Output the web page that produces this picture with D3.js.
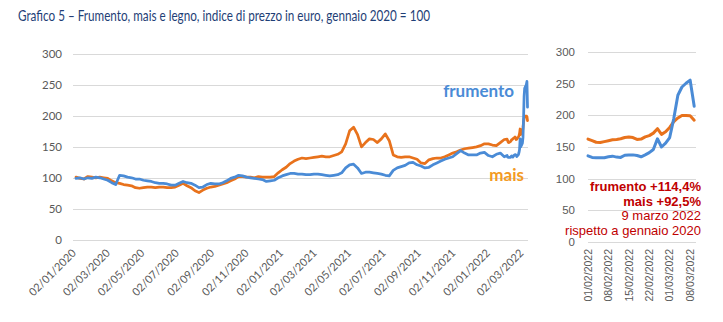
<!DOCTYPE html>
<html>
<head>
<meta charset="utf-8">
<script src="https://cdn.jsdelivr.net/npm/d3@7"></script>
<style>
  html, body { margin: 0; padding: 0; background: #ffffff; }
  svg { display: block; }
</style>
</head>
<body>
<script>
// ---- Data: price index in euro, January 2020 = 100 ----

// Weekly observations from 2 Jan 2020 to 27 Jan 2022
const weeklyStart = "2020-01-02";
const wheatWeekly = [
  99,100,98,100,99,101,100,98,96,92,
  89,104,103,101,100,98,98,96,95,94,
  92,91,91,90,88,88,91,94,92,91,
  88,84,85,89,91,90,90,92,95,99,
  101,104,103,101,100,99,98,97,94,95,
  96,100,103,105,107,107,106,106,105,105,
  106,106,105,104,103,104,105,108,116,121,
  122,116,107,109,109,108,107,106,104,103,
  112,116,118,120,124,125,121,119,116,117,
  121,124,127,130,132,134,139,144,140,137,
  137,137,140,141,136,134,138,140,134
];
const maizeWeekly = [
  101,99,98,102,101,100,101,100,99,95,
  92,91,89,88,87,84,83,84,85,85,
  84,85,85,84,84,85,88,91,87,84,
  79,76,80,83,85,86,88,90,92,95,
  98,102,102,101,101,100,102,101,101,101,
  102,108,113,117,123,127,130,132,131,132,
  133,134,135,134,134,136,138,142,155,176,
  182,170,150,157,163,162,157,163,171,160,
  137,134,133,134,134,132,130,124,123,129,
  131,132,132,134,137,140,142,145,147,148,
  149,150,152,155,155,153,152,157,162
];

// Daily trading sessions, 1 Feb 2022 – 9 Mar 2022
const dailyDates = [
  "01/02/2022","02/02/2022","03/02/2022","04/02/2022","07/02/2022",
  "08/02/2022","09/02/2022","10/02/2022","11/02/2022","14/02/2022",
  "15/02/2022","16/02/2022","17/02/2022","18/02/2022","21/02/2022",
  "22/02/2022","23/02/2022","24/02/2022","25/02/2022","28/02/2022",
  "01/03/2022","02/03/2022","03/03/2022","04/03/2022","07/03/2022",
  "08/03/2022","09/03/2022"
];
const wheatDaily = [
  136,133.5,133,133,133,134.5,135.5,134,133.5,137,
  137.5,137.5,136.5,134.5,137.5,141,146,163,150,156,
  165,195,232,245,251,256,214.4
];
const maizeDaily = [
  162.5,160,157.5,157,158.5,160,161.5,162,163,165,
  166,165,162,162.5,166,168,172,179,170,174,
  181,190,196,200,200,199.5,192.5
];

// Axis tick labels
const yTicks = [0, 50, 100, 150, 200, 250, 300];
const mainTickLabels = [
  "02/01/2020","02/03/2020","02/05/2020","02/07/2020","02/09/2020","02/11/2020",
  "02/01/2021","02/03/2021","02/05/2021","02/07/2021","02/09/2021","02/11/2021",
  "02/01/2022","02/03/2022"
];
const zoomTickLabels = ["01/02/2022","08/02/2022","15/02/2022","22/02/2022","01/03/2022","08/03/2022"];

// Text
const titleText = "Grafico 5 \u2013 Frumento, mais e legno, indice di prezzo in euro, gennaio 2020 = 100";
const seriesNames = ["frumento", "mais"];
const noteLines = ["frumento +114,4%", "mais +92,5%", "9 marzo 2022", "rispetto a gennaio 2020"];

// ---- Build series ----
const parseDMY = d3.timeParse("%d/%m/%Y");
const start = d3.isoParse(weeklyStart + "T00:00:00");
const weeklyDates = wheatWeekly.map((_, i) => d3.timeDay.offset(start, 7 * i));
const dailyParsed = dailyDates.map(parseDMY);

const wheatMain = weeklyDates.map((d, i) => ({ date: d, v: wheatWeekly[i] }))
  .concat(dailyParsed.map((d, i) => ({ date: d, v: wheatDaily[i] })));
const maizeMain = weeklyDates.map((d, i) => ({ date: d, v: maizeWeekly[i] }))
  .concat(dailyParsed.map((d, i) => ({ date: d, v: maizeDaily[i] })));

const COLORS = { wheat: "#4a8bd6", maize: "#e8721c", maizeLabel: "#f39a24", grid: "#d9d9d9", tick: "#595959", note: "#c00000", title: "#1f3f77" };

const svg = d3.select("body").append("svg")
  .attr("width", 723).attr("height", 322)
  .style("background", "#ffffff");

// Title
svg.append("text")
  .attr("x", 18).attr("y", 20.5)
  .attr("textLength", 412).attr("lengthAdjust", "spacingAndGlyphs")
  .style("font-family", "'Liberation Sans Narrow', Lato, sans-serif")
  .style("font-size", "15px")
  .style("fill", COLORS.title)
  .text(titleText);

// ---- Main panel ----
const yMain = d3.scaleLinear().domain([0, 300]).range([239.5, 54.3]);
const xMain = d3.scaleTime()
  .domain([start, dailyParsed[dailyParsed.length - 1]])
  .range([76, 527.5]);

const gMain = svg.append("g");
gMain.selectAll("line.grid").data(yTicks).join("line")
  .attr("class", "grid")
  .attr("x1", 73).attr("x2", 528)
  .attr("y1", d => Math.round(yMain(d)) + 0.5).attr("y2", d => Math.round(yMain(d)) + 0.5)
  .attr("stroke", COLORS.grid).attr("stroke-width", 1);

gMain.selectAll("text.ytick").data(yTicks).join("text")
  .attr("class", "ytick")
  .attr("x", 62).attr("y", d => yMain(d)).attr("dy", "0.35em")
  .attr("text-anchor", "end")
  .style("font-family", "Lato, sans-serif").style("font-size", "11.5px")
  .style("fill", COLORS.tick)
  .text(d => d);

gMain.selectAll("text.xtick").data(mainTickLabels).join("text")
  .attr("class", "xtick")
  .attr("transform", d => `translate(${xMain(parseDMY(d)) - 2},251) rotate(-45)`)
  .attr("dy", "0.35em")
  .attr("text-anchor", "end")
  .style("font-family", "Lato, sans-serif").style("font-size", "11px")
  .style("fill", COLORS.tick)
  .text(d => d);

const lineMain = d3.line().x(d => xMain(d.date)).y(d => yMain(d.v));
gMain.append("path").datum(maizeMain)
  .attr("d", lineMain).attr("fill", "none")
  .attr("stroke", COLORS.maize).attr("stroke-width", 2.75)
  .attr("stroke-linejoin", "round").attr("stroke-linecap", "round");
gMain.append("path").datum(wheatMain)
  .attr("d", lineMain).attr("fill", "none")
  .attr("stroke", COLORS.wheat).attr("stroke-width", 2.75)
  .attr("stroke-linejoin", "round").attr("stroke-linecap", "round");

gMain.append("text")
  .attr("x", 514).attr("y", 96.5).attr("text-anchor", "end")
  .style("font-family", "Lato, sans-serif").style("font-weight", "bold").style("font-size", "17px")
  .style("fill", COLORS.wheat)
  .text(seriesNames[0]);
gMain.append("text")
  .attr("x", 524).attr("y", 180.5).attr("text-anchor", "end")
  .style("font-family", "Lato, sans-serif").style("font-weight", "bold").style("font-size", "17px")
  .style("fill", COLORS.maizeLabel)
  .text(seriesNames[1]);

// ---- Zoom panel: February – March 2022 ----
const yZoom = d3.scaleLinear().domain([0, 300]).range([241.7, 52.3]);
const xZoom = d3.scalePoint().domain(dailyDates).range([588, 694.2]);

const gZoom = svg.append("g");
gZoom.selectAll("line.grid").data(yTicks).join("line")
  .attr("class", "grid")
  .attr("x1", 588).attr("x2", 696)
  .attr("y1", d => Math.round(yZoom(d)) + 0.5).attr("y2", d => Math.round(yZoom(d)) + 0.5)
  .attr("stroke", COLORS.grid).attr("stroke-width", 1);

gZoom.selectAll("text.ytick").data(yTicks).join("text")
  .attr("class", "ytick")
  .attr("x", 575).attr("y", d => yZoom(d)).attr("dy", "0.35em")
  .attr("text-anchor", "end")
  .style("font-family", "'Liberation Sans', Arial, sans-serif").style("font-size", "11.5px")
  .style("fill", COLORS.tick)
  .text(d => d);

gZoom.selectAll("text.xtick").data(zoomTickLabels).join("text")
  .attr("class", "xtick")
  .attr("transform", d => `translate(${xZoom(d)},249) rotate(-90)`)
  .attr("dy", "0.35em")
  .attr("text-anchor", "end")
  .style("font-family", "'Liberation Sans', Arial, sans-serif").style("font-size", "10.5px")
  .style("fill", COLORS.tick)
  .text(d => d);

const lineZoom = d3.line().x((d, i) => xZoom(dailyDates[i])).y(d => yZoom(d));
gZoom.append("path").datum(maizeDaily)
  .attr("d", lineZoom).attr("fill", "none")
  .attr("stroke", COLORS.maize).attr("stroke-width", 3)
  .attr("stroke-linejoin", "round").attr("stroke-linecap", "round");
gZoom.append("path").datum(wheatDaily)
  .attr("d", lineZoom).attr("fill", "none")
  .attr("stroke", COLORS.wheat).attr("stroke-width", 3)
  .attr("stroke-linejoin", "round").attr("stroke-linecap", "round");

const noteY = [190.5, 205.5, 220, 234.5];
gZoom.selectAll("text.note").data(noteLines).join("text")
  .attr("class", "note")
  .attr("x", 701).attr("y", (d, i) => noteY[i])
  .attr("text-anchor", "end")
  .style("font-family", "'Liberation Sans', Arial, sans-serif")
  .style("font-size", "13px")
  .style("font-weight", (d, i) => i < 2 ? "bold" : "normal")
  .style("fill", COLORS.note)
  .text(d => d);
</script>
</body>
</html>
